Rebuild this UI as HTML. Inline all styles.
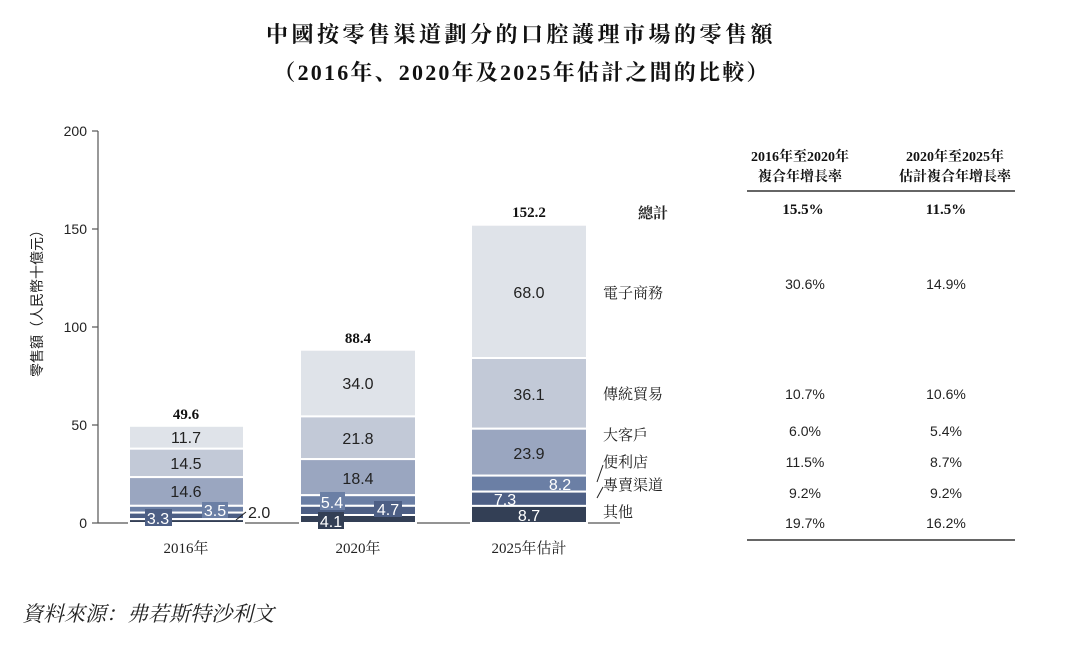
<!DOCTYPE html>
<html><head><meta charset="utf-8"><style>
body{margin:0;background:#fff}
svg{display:block}
text{font-family:"Liberation Sans","Noto Sans CJK TC",sans-serif}
text.s,.s text{font-family:"Liberation Serif","Noto Serif CJK SC",serif}
</style></head><body>
<svg width="1080" height="649" viewBox="0 0 1080 649" xmlns="http://www.w3.org/2000/svg">
<text x="521" y="42" text-anchor="middle" font-size="22" font-weight="bold" letter-spacing="3.5" class="s" fill="#111">中國按零售渠道劃分的口腔護理市場的零售額</text>
<text x="522" y="80" text-anchor="middle" font-size="22" font-weight="bold" letter-spacing="2.2" class="s" fill="#111">（2016年、2020年及2025年估計之間的比較）</text>
<line x1="98" y1="131" x2="98" y2="523" stroke="#555" stroke-width="1.2"/>
<line x1="98" y1="523" x2="620" y2="523" stroke="#555" stroke-width="1.2"/>
<g stroke="#555" stroke-width="1.2">
<line x1="92" y1="131" x2="98" y2="131"/><line x1="92" y1="229" x2="98" y2="229"/><line x1="92" y1="327" x2="98" y2="327"/><line x1="92" y1="425" x2="98" y2="425"/><line x1="92" y1="523" x2="98" y2="523"/>
</g>
<g font-size="14" fill="#222" text-anchor="end">
<text x="87" y="136">200</text><text x="87" y="234">150</text><text x="87" y="332">100</text><text x="87" y="430">50</text><text x="87" y="528">0</text>
</g>
<text transform="translate(42,300) rotate(-90)" text-anchor="middle" font-size="14" fill="#222">零售額（人民幣十億元）</text>
<g stroke="#fff" stroke-width="2">
<rect x="129" y="425.8" width="115" height="22.9" fill="#dfe3e9"/>
<rect x="129" y="448.7" width="115" height="28.4" fill="#c2c9d7"/>
<rect x="129" y="477.1" width="115" height="28.7" fill="#9aa6c0"/>
<rect x="129" y="505.8" width="115" height="6.8" fill="#6b7fa5"/>
<rect x="129" y="512.6" width="115" height="6.5" fill="#4d5f85"/>
<rect x="129" y="519.1" width="115" height="3.9" fill="#333f55"/>
<rect x="300" y="349.7" width="116" height="66.7" fill="#dfe3e9"/>
<rect x="300" y="416.4" width="116" height="42.7" fill="#c2c9d7"/>
<rect x="300" y="459.1" width="116" height="36.1" fill="#9aa6c0"/>
<rect x="300" y="495.2" width="116" height="10.6" fill="#6b7fa5"/>
<rect x="300" y="505.8" width="116" height="9.2" fill="#4d5f85"/>
<rect x="300" y="515" width="116" height="8" fill="#333f55"/>
<rect x="471" y="224.7" width="116" height="133.3" fill="#dfe3e9"/>
<rect x="471" y="358" width="116" height="70.7" fill="#c2c9d7"/>
<rect x="471" y="428.7" width="116" height="46.9" fill="#9aa6c0"/>
<rect x="471" y="475.6" width="116" height="16" fill="#6b7fa5"/>
<rect x="471" y="491.6" width="116" height="14.3" fill="#4d5f85"/>
<rect x="471" y="505.9" width="116" height="17.1" fill="#333f55"/>
</g>
<rect x="145" y="509" width="27" height="17" fill="#4d5f85"/>
<rect x="202" y="502" width="26" height="16" fill="#6b7fa5"/>
<rect x="320" y="492" width="25" height="18" fill="#6b7fa5"/>
<rect x="374" y="501" width="28" height="16" fill="#4d5f85"/>
<rect x="318" y="512" width="26" height="17" fill="#333f55"/>
<g font-size="16" fill="#222" text-anchor="middle">
<text x="186" y="443">11.7</text><text x="186" y="469">14.5</text><text x="186" y="497">14.6</text>
<text x="358" y="389">34.0</text><text x="358" y="444">21.8</text><text x="358" y="484">18.4</text>
<text x="529" y="298">68.0</text><text x="529" y="400">36.1</text><text x="529" y="459">23.9</text>
</g>
<g font-size="16" fill="#fff" text-anchor="middle">
<text x="158" y="524">3.3</text><text x="215" y="516">3.5</text>
<text x="332" y="508">5.4</text><text x="388" y="515">4.7</text><text x="331" y="527">4.1</text>
<text x="560" y="490">8.2</text><text x="505" y="505">7.3</text><text x="529" y="521">8.7</text>
</g>
<line x1="236" y1="520" x2="246" y2="512" stroke="#222"/>
<text x="248" y="518" font-size="16" fill="#222">2.0</text>
<g font-size="15" font-weight="bold" fill="#111" text-anchor="middle" class="s">
<text x="186" y="419">49.6</text><text x="358" y="343">88.4</text><text x="529" y="217">152.2</text>
</g>
<g font-size="15" fill="#222" text-anchor="middle" class="s">
<text x="186" y="553">2016年</text><text x="358" y="553">2020年</text><text x="529" y="553">2025年估計</text>
</g>
<line x1="597" y1="482" x2="603" y2="465" stroke="#222"/>
<line x1="597" y1="498" x2="603" y2="487" stroke="#222"/>
<g font-size="15" fill="#222" class="s">
<text x="638" y="218" font-weight="bold">總計</text>
<text x="603" y="298">電子商務</text>
<text x="603" y="399">傳統貿易</text>
<text x="603" y="440">大客戶</text>
<text x="603" y="467">便利店</text>
<text x="603" y="490">專賣渠道</text>
<text x="603" y="517">其他</text>
</g>
<g font-size="14" font-weight="bold" fill="#111" text-anchor="middle" class="s">
<text x="800" y="161">2016年至2020年</text><text x="800" y="181">複合年增長率</text>
<text x="955" y="161">2020年至2025年</text><text x="955" y="181">估計複合年增長率</text>
</g>
<line x1="747" y1="191" x2="1015" y2="191" stroke="#333" stroke-width="1.5"/>
<line x1="747" y1="540" x2="1015" y2="540" stroke="#333" stroke-width="1.5"/>
<g font-size="15" font-weight="bold" fill="#111" text-anchor="middle" class="s">
<text x="803" y="214">15.5%</text><text x="946" y="214">11.5%</text>
</g>
<g font-size="14" fill="#222" text-anchor="middle">
<text x="805" y="289">30.6%</text><text x="946" y="289">14.9%</text>
<text x="805" y="399">10.7%</text><text x="946" y="399">10.6%</text>
<text x="805" y="436">6.0%</text><text x="946" y="436">5.4%</text>
<text x="805" y="467">11.5%</text><text x="946" y="467">8.7%</text>
<text x="805" y="498">9.2%</text><text x="946" y="498">9.2%</text>
<text x="805" y="528">19.7%</text><text x="946" y="528">16.2%</text>
</g>
<text x="22" y="621" font-size="21" font-style="italic" fill="#222" class="s">資料來源：弗若斯特沙利文</text>
</svg>
</body></html>
